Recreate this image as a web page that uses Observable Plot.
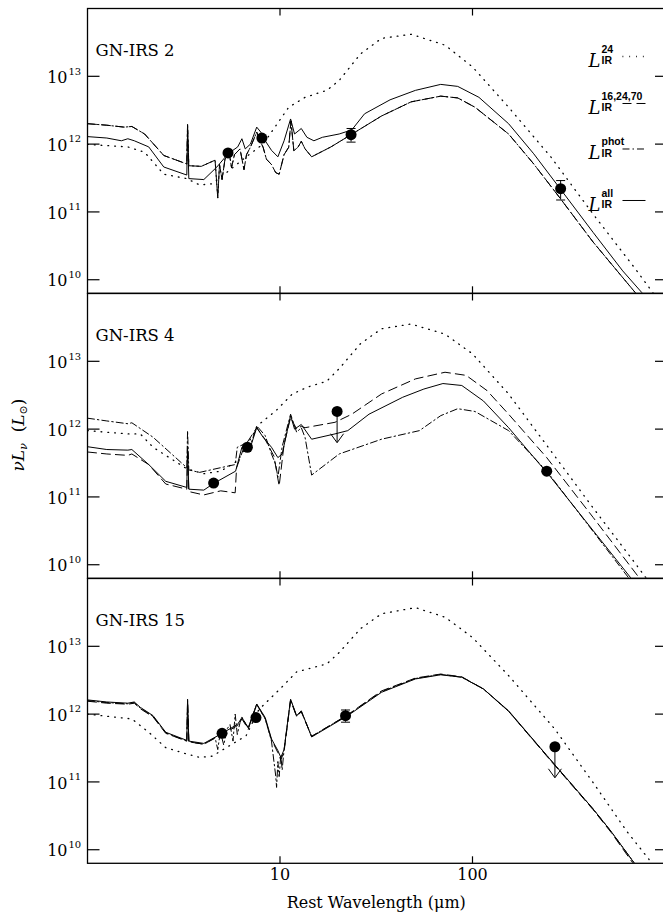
<!DOCTYPE html>
<html><head><meta charset="utf-8">
<script src="https://cdn.jsdelivr.net/npm/d3@7"></script>
<script src="https://cdn.jsdelivr.net/npm/@observablehq/plot@0.6"></script>
<style>
body{margin:0;background:#fff;}
#fig{position:relative;width:663px;height:919px;overflow:hidden;background:#fff;}
#fig svg{position:absolute;left:0;background:transparent;}
#ylab{position:absolute;left:19px;top:435px;transform:translate(-50%,-50%) rotate(-90deg);white-space:nowrap;font-family:'DejaVu Serif',serif;font-size:17px;color:#000;}
#ylab sub{font-size:11px;vertical-align:-3px;}
</style></head><body><div id="fig"><div id="ylab"><i>νL</i><sub><i>ν</i></sub>&nbsp;&nbsp;(<i>L</i><sub>⊙</sub>)</div></div>
<script>
// ---------- axis / label values ----------
const yTicks = [1e10, 1e11, 1e12, 1e13];
const yTickExponents = ["10", "11", "12", "13"];
const xTicks = [10, 100];
const xTickLabels = ["10", "100"];
const panelNames = ["GN-IRS 2", "GN-IRS 4", "GN-IRS 15"];
const legendSup = ["24", "16,24,70", "phot", "all"];
const xLabel = "Rest Wavelength (μm)";

// ---------- model SEDs: [wavelength (μm), νLν (10^12 L⊙)] ----------
// GN-IRS 2
const irs2_L24 = [[1.0,0.99],[1.62,0.91],[1.98,0.76],[2.49,0.36],[3.28,0.31],[3.82,0.25],[4.45,0.26],[5.45,0.41],[6.67,0.65],[8.17,1.0],[11.1,3.5],[13.5,4.9],[17.5,6.2],[20.3,8.7],[26.2,21.4],[33.7,36.3],[48,41.7],[72,28.8],[100,13.8],[154,3.5],[255,0.65],[423,0.093],[701,0.0145],[870,0.0063],[1000,0.0037]];
const irs2_Lphot = [[1.0,2.0],[1.26,1.9],[1.55,1.78],[1.70,1.82],[1.98,1.41],[2.49,0.68],[3.28,0.51],[3.31,2.0],[3.36,0.48],[3.9,0.47],[4.6,0.58],[4.75,0.16],[4.85,0.5],[5.0,0.3],[5.18,0.6],[5.45,0.74],[5.6,0.45],[5.8,0.7],[6.2,0.85],[6.5,0.42],[6.7,0.7],[7.02,0.9],[7.57,1.5],[7.9,1.1],[8.17,0.9],[8.5,0.6],[9.03,0.5],[9.5,0.38],[9.9,0.36],[10.5,0.7],[11.1,0.9],[11.4,2.2],[11.8,0.8],[12.4,0.9],[12.9,1.1],[13.5,0.85],[14.6,0.65],[18.4,0.91],[23.4,1.38],[33.7,2.6],[48,4.2],[68.4,5.1],[83.8,4.8],[103,3.5],[154,1.41],[208,0.51],[282,0.166],[423,0.036],[706,0.0063],[850,0.0032]];
const irs2_L16 = irs2_Lphot.map(d => [d[0], d[1]]); // coincides with L_phot for this source
const irs2_Lall = [[1.0,1.29],[1.26,1.23],[1.5,1.12],[1.62,1.2],[1.75,1.12],[2.08,0.91],[2.49,0.46],[3.28,0.35],[3.31,1.6],[3.36,0.31],[4.02,0.30],[4.7,0.46],[5.37,0.72],[6.03,0.91],[6.34,1.2],[6.6,0.85],[7.02,1.0],[7.57,1.78],[7.95,1.5],[8.38,1.12],[9.03,0.81],[9.75,0.65],[10.5,1.12],[11.35,2.35],[11.9,1.41],[12.9,1.7],[13.8,1.26],[15.0,1.12],[16.6,1.26],[20.3,1.41],[23.6,1.62],[27.5,2.8],[37.3,4.5],[50.5,6.2],[68.4,7.6],[83.8,7.1],[108,4.9],[154,2.0],[208,0.72],[282,0.23],[423,0.05],[603,0.0135],[764,0.0063],[900,0.0034]];
const irs2_points = [[5.37,0.74],[8.05,1.23],[23.4,1.38],[287,0.22]];
const irs2_errors = [[23.4,1.07,1.7],[287,0.15,0.29]];
const irs2_limits = [];

// GN-IRS 4
const irs4_L24 = [[1.0,0.95],[1.62,0.85],[1.88,0.85],[2.19,0.54],[3.28,0.26],[4.02,0.22],[4.92,0.24],[6.03,0.34],[7.77,1.17],[9.51,1.86],[11.6,3.3],[14.0,4.2],[17.5,5.1],[20.3,7.8],[26.2,18.2],[33.7,30.2],[48,35.5],[72,25.1],[100,12.9],[154,3.3],[255,0.48],[423,0.069],[700,0.0105],[1000,0.0027]];
const irs4_L16 = [[1.0,0.46],[1.26,0.43],[1.62,0.41],[1.70,0.43],[2.08,0.30],[2.55,0.155],[3.28,0.13],[3.31,0.5],[3.36,0.12],[4.02,0.107],[4.92,0.123],[5.85,0.115],[5.95,0.27],[6.5,0.54],[7.57,1.05],[8.38,0.7],[9.3,0.4],[9.9,0.145],[10.5,0.6],[11.35,1.48],[12.2,1.0],[12.9,1.1],[13.5,1.05],[19.3,1.26],[23.6,1.66],[33.7,3.3],[50.5,5.5],[72,6.9],[92.7,6.2],[119,3.7],[154,1.66],[243,0.38],[423,0.05],[738,0.0063],[900,0.0030]];
const irs4_Lphot = [[1.0,1.45],[1.26,1.32],[1.62,1.2],[1.70,1.24],[2.19,0.76],[3.28,0.27],[3.31,0.95],[3.36,0.25],[3.82,0.23],[4.92,0.27],[5.85,0.30],[6.0,0.54],[6.5,0.6],[6.84,0.45],[7.57,1.12],[8.38,0.8],[9.03,0.43],[9.5,0.3],[9.75,0.195],[10.26,0.55],[11.35,1.66],[12.2,0.9],[12.9,1.05],[13.5,0.75],[14.6,0.21],[20.3,0.43],[33.7,0.71],[53,0.95],[68.4,1.58],[83.8,2.0],[103,1.82],[154,0.95],[243,0.24],[423,0.031],[650,0.0063],[800,0.0029]];
const irs4_Lall = [[1.0,0.55],[1.26,0.50],[1.62,0.49],[1.70,0.50],[2.08,0.30],[2.55,0.17],[3.28,0.138],[3.31,0.56],[3.36,0.13],[4.02,0.126],[4.52,0.158],[5.88,0.24],[6.34,0.54],[7.02,0.54],[7.57,1.05],[8.17,0.76],[9.03,0.54],[9.75,0.38],[10.26,0.43],[11.35,1.58],[11.9,1.0],[12.9,1.17],[14.6,0.71],[19.3,0.85],[22.5,0.95],[29,1.66],[43.4,2.95],[55.9,3.9],[70.2,4.7],[88,4.4],[114,2.6],[154,1.05],[255,0.195],[423,0.032],[667,0.0063],[800,0.0033]];
const irs4_points = [[4.52,0.16],[6.77,0.54],[19.8,1.82],[243,0.24]];
const irs4_errors = [];
const irs4_limits = [[19.8,1.82,0.63]];

// GN-IRS 15
const irs15_L24 = [[1.0,1.0],[1.26,0.93],[1.70,0.85],[2.08,0.54],[2.55,0.32],[3.1,0.27],[3.82,0.23],[4.45,0.24],[5.45,0.34],[6.67,0.48],[7.77,1.17],[10.0,2.35],[12.2,4.2],[17.5,5.5],[20.3,8.1],[26.2,18.2],[33.7,30.2],[50.5,37.2],[72,26.9],[100,13.5],[154,3.7],[268,0.60],[423,0.098],[634,0.0186],[826,0.0072],[1000,0.0035]];
const irs15_L16 = [[1.0,1.55],[1.26,1.45],[1.62,1.40],[1.75,1.45],[1.88,1.2],[2.19,0.91],[2.55,0.52],[3.28,0.40],[3.31,1.5],[3.36,0.39],[4.02,0.36],[5.0,0.5],[6.03,0.68],[6.34,0.85],[6.84,0.6],[7.57,1.38],[8.38,0.85],[9.03,0.42],[9.75,0.27],[10.1,0.21],[10.5,0.28],[11.35,1.6],[12.2,0.92],[12.9,1.08],[14.6,0.47],[22.5,0.98],[33.7,2.2],[50.5,3.4],[68.4,3.9],[88,3.55],[114,2.35],[154,1.1],[255,0.205],[423,0.039],[525,0.018],[680,0.0064],[850,0.0029]];
const irs15_Lphot = [[1.0,1.58],[1.26,1.48],[1.62,1.42],[1.75,1.48],[1.88,1.23],[2.19,0.93],[2.55,0.53],[3.28,0.40],[3.31,1.6],[3.36,0.39],[4.02,0.36],[4.6,0.45],[4.75,0.3],[4.9,0.55],[5.1,0.35],[5.3,0.6],[5.5,0.7],[5.7,0.4],[5.85,1.0],[6.0,0.5],[6.2,0.75],[6.34,0.9],[6.84,0.62],[7.57,1.4],[8.38,0.85],[9.03,0.4],[9.3,0.2],[9.5,0.123],[9.6,0.083],[9.75,0.2],[9.9,0.12],[10.1,0.25],[10.26,0.15],[10.5,0.3],[11.35,1.63],[12.2,0.93],[12.9,1.1],[14.6,0.47],[22.5,0.97],[33.7,2.15],[50.5,3.35],[68.4,3.85],[88,3.5],[114,2.35],[154,1.1],[255,0.21],[423,0.040],[525,0.0186],[686,0.0066],[850,0.0030]];
const irs15_Lall = [[1.0,1.62],[1.26,1.51],[1.62,1.45],[1.75,1.51],[1.88,1.26],[2.19,0.95],[2.55,0.54],[3.28,0.41],[3.31,1.66],[3.36,0.40],[4.02,0.37],[5.0,0.52],[6.03,0.71],[6.34,0.89],[6.84,0.63],[7.57,1.41],[8.38,0.89],[9.03,0.43],[9.75,0.29],[10.1,0.23],[10.5,0.30],[11.35,1.66],[12.2,0.95],[12.9,1.12],[14.6,0.46],[22.5,0.95],[33.7,2.1],[50.5,3.3],[68.4,3.8],[88,3.5],[114,2.35],[154,1.12],[255,0.21],[423,0.040],[525,0.0186],[686,0.0066],[850,0.0030]];
const irs15_points = [[5.0,0.52],[7.5,0.89],[21.9,0.95],[268,0.33]];
const irs15_errors = [[21.9,0.76,1.15]];
const irs15_limits = [[268,0.33,0.115]];

// ---------- drawing ----------
const serif = "'DejaVu Serif','Liberation Serif',serif";
const sans = "'Liberation Sans','DejaVu Sans',sans-serif";
const UNIT = 1e12;
const PH = 284.8;
const sym = f => ({draw(c){ f(c); }});
const tickL = sym(c => {c.moveTo(0,0); c.lineTo(12,0);});
const tickR = sym(c => {c.moveTo(0,0); c.lineTo(-10,0);});
const tickT = sym(c => {c.moveTo(0,0); c.lineTo(0,7);});
const tickB = sym(c => {c.moveTo(0,0); c.lineTo(0,-7);});
const capSym = sym(c => {c.moveTo(-4.5,0); c.lineTo(4.5,0);});
const vHead = sym(c => {c.moveTo(-6.5,-9); c.lineTo(0,0); c.lineTo(6.5,-9);});
const legSym = sym(c => {c.moveTo(-11.5,0); c.lineTo(11.5,0);});
const dashes = {L24: "0.8 6", L16: "9 5", Lphot: "7 3 1.5 3", Lall: null};
const lw = {L24: 1.3, L16: 1, Lphot: 1, Lall: 1};

function panel(cfg) {
  const {name, curves, points, errors, limits, mTop, mBottom, legend, xAxis} = cfg;
  const X = d => d[0], Y = d => d[1] * UNIT;
  const marks = [];
  for (const [key, arr] of curves) {
    marks.push(Plot.line(arr, {x: X, y: Y, stroke: "#000", strokeWidth: lw[key], strokeDasharray: dashes[key] || undefined, clip: true}));
  }
  marks.push(Plot.frame({stroke: "#000", strokeWidth: 1.3}));
  const tk = {stroke: "#000", fill: "none", strokeWidth: 1.2};
  marks.push(Plot.dot(yTicks, {y: d => d, frameAnchor: "left", symbol: tickL, ...tk}));
  marks.push(Plot.dot(yTicks, {y: d => d, frameAnchor: "right", symbol: tickR, ...tk}));
  marks.push(Plot.dot(xTicks, {x: d => d, frameAnchor: "top", symbol: tickT, ...tk}));
  marks.push(Plot.dot(xTicks, {x: d => d, frameAnchor: "bottom", symbol: tickB, ...tk}));
  marks.push(Plot.text(yTicks, {y: d => d, text: () => "10", frameAnchor: "left", dx: -20, dy: 1.5, textAnchor: "end", fontSize: 16, fontFamily: serif, fill: "#000"}));
  marks.push(Plot.text(yTicks, {y: d => d, text: (d, i) => yTickExponents[i], frameAnchor: "left", dx: -19, dy: -5, textAnchor: "start", fontSize: 10, fontFamily: serif, fill: "#000"}));
  marks.push(Plot.text([name], {text: d => d, frameAnchor: "top-left", dx: 8, dy: 35.5, textAnchor: "start", fontSize: 16.5, fontFamily: serif, fill: "#000", ariaLabel: "panel-name"}));
  if (errors.length) {
    marks.push(Plot.ruleX(errors, {x: X, y1: d => d[1] * UNIT, y2: d => d[2] * UNIT, stroke: "#000", strokeWidth: 1}));
    marks.push(Plot.dot(errors, {x: X, y: d => d[1] * UNIT, symbol: capSym, stroke: "#000", fill: "none", strokeWidth: 1}));
    marks.push(Plot.dot(errors, {x: X, y: d => d[2] * UNIT, symbol: capSym, stroke: "#000", fill: "none", strokeWidth: 1}));
  }
  if (limits.length) {
    marks.push(Plot.ruleX(limits, {x: X, y1: Y, y2: d => d[2] * UNIT, stroke: "#000", strokeWidth: 1}));
    marks.push(Plot.dot(limits, {x: X, y: d => d[2] * UNIT, symbol: vHead, stroke: "#000", fill: "none", strokeWidth: 1}));
  }
  marks.push(Plot.dot(points, {x: X, y: Y, r: 5.5, fill: "#000", stroke: "none"}));
  if (legend) {
    const base = [45.5, 92.5, 138, 189.5];
    const keys = ["L24", "L16", "Lphot", "Lall"];
    legendSup.forEach((s, i) => {
      marks.push(Plot.text(["L"], {text: d => d, frameAnchor: "top-right", dx: -76.5, dy: base[i], textAnchor: "start", fontSize: 18, fontStyle: "italic", fontFamily: serif, fill: "#000"}));
      marks.push(Plot.text([s], {text: d => d, frameAnchor: "top-right", dx: -63.5, dy: base[i] - 8.5, textAnchor: "start", fontSize: 10.5, fontWeight: "bold", fontFamily: sans, fill: "#000"}));
      marks.push(Plot.text(["IR"], {text: d => d, frameAnchor: "top-right", dx: -63.5, dy: base[i] + 3, textAnchor: "start", fontSize: 10.5, fontWeight: "bold", fontFamily: sans, fill: "#000"}));
      marks.push(Plot.dot([s], {frameAnchor: "top-right", dx: -31, dy: base[i] + 2.5, symbol: legSym, stroke: "#000", fill: "none", strokeWidth: lw[keys[i]], strokeDasharray: dashes[keys[i]] || undefined}));
    });
  }
  if (xAxis) {
    marks.push(Plot.text(xTicks, {x: d => d, text: (d, i) => xTickLabels[i], frameAnchor: "bottom", dy: 16.7, fontSize: 16, fontFamily: serif, fill: "#000"}));
    marks.push(Plot.text([xLabel], {text: d => d, frameAnchor: "bottom", dy: 44.6, fontSize: 16, fontFamily: serif, fill: "#000", ariaLabel: "xlabel"}));
  }
  const svg = Plot.plot({
    width: 663, height: mTop + PH + mBottom,
    marginLeft: 87, marginRight: -1.5, marginTop: mTop, marginBottom: mBottom,
    x: {type: "log", domain: [1, 1000], axis: null},
    y: {type: "log", domain: [Math.pow(10, 9.8), 1e14], axis: null},
    marks
  });
  svg.querySelectorAll('[aria-label="panel-name"] text, [aria-label="xlabel"] text').forEach(t => t.setAttribute("letter-spacing", "1.5"));
  return svg;
}

const fig = document.getElementById("fig");
const configs = [
  {name: panelNames[0], curves: [["L24", irs2_L24], ["L16", irs2_L16], ["Lphot", irs2_Lphot], ["Lall", irs2_Lall]], points: irs2_points, errors: irs2_errors, limits: irs2_limits, mTop: 8, mBottom: 2, legend: true, top: 0},
  {name: panelNames[1], curves: [["L24", irs4_L24], ["L16", irs4_L16], ["Lphot", irs4_Lphot], ["Lall", irs4_Lall]], points: irs4_points, errors: irs4_errors, limits: irs4_limits, mTop: 2, mBottom: 2, top: 8 + PH - 2},
  {name: panelNames[2], curves: [["L24", irs15_L24], ["L16", irs15_L16], ["Lphot", irs15_Lphot], ["Lall", irs15_Lall]], points: irs15_points, errors: irs15_errors, limits: irs15_limits, mTop: 2, mBottom: 919 - (8 + 3 * PH), xAxis: true, top: 8 + 2 * PH - 2}
];
for (const c of configs) {
  const svg = panel(c);
  svg.style.top = c.top + "px";
  fig.appendChild(svg);
}
</script></body></html>
